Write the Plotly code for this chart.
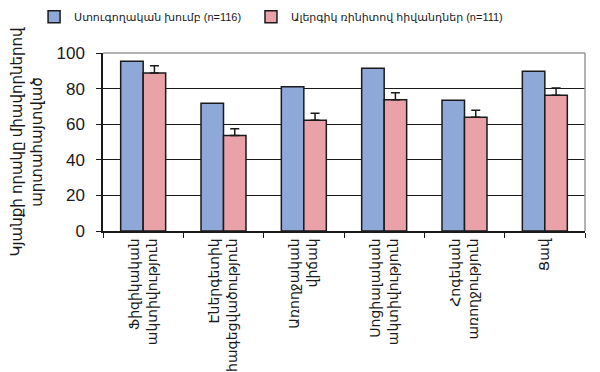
import plotly.graph_objects as go

categories = [
    "Ֆիզիկական<br>ակտիվություն",
    "Էներգետիկ<br>հագեցվածություն",
    "Առողջական<br>վիճակ",
    "Սոցիալական<br>ակտիվություն",
    "Հոգեկան<br>առողջություն",
    "Ցավ",
]
control_name = "Ստուգողական խումբ (n=116)"
patient_name = "Ալերգիկ ռինիտով հիվանդներ (n=111)"
control_values = [95.3, 71.8, 81.0, 91.4, 73.5, 89.7]
patient_values = [88.7, 53.6, 62.2, 73.7, 63.9, 76.3]
patient_errors = [4.2, 3.9, 4.0, 3.9, 4.0, 4.0]
y_ticks = [0, 20, 40, 60, 80, 100]
y_title = "Կյանքի որակը միավորներով<br>արտահայտված"

FONT = "Liberation Sans, Arial, DejaVu Sans, sans-serif"

fig = go.Figure()
fig.add_trace(go.Bar(
    x=categories, y=control_values, name=control_name, legend="legend",
    marker=dict(color="#8EA8D8", line=dict(color="#1a1a1a", width=1.5)),
))
fig.add_trace(go.Bar(
    x=categories, y=patient_values, name=patient_name, legend="legend2",
    marker=dict(color="#E8A2A8", line=dict(color="#1a1a1a", width=1.5)),
    error_y=dict(type="data", symmetric=False, array=patient_errors,
                 arrayminus=[0] * len(patient_errors),
                 color="#1a1a1a", thickness=1.5, width=4.5),
))

legend_common = dict(orientation="h", xanchor="left", y=1.204, yanchor="middle",
                     font=dict(size=11, family=FONT, color="#1a1a1a"),
                     itemwidth=30, bgcolor="rgba(0,0,0,0)")

fig.update_layout(
    width=592, height=364,
    margin=dict(l=95, r=15, t=45, b=141, autoexpand=False),
    paper_bgcolor="white", plot_bgcolor="white",
    barmode="group", bargap=0.44, bargroupgap=0.0,
    font=dict(family=FONT, color="#1a1a1a"),
    showlegend=True,
    legend=dict(x=-0.143, **legend_common),
    legend2=dict(x=0.307, **legend_common),
    xaxis=dict(
        showline=True, linecolor="#1a1a1a", linewidth=1.5,
        ticks="outside", tickson="boundaries", ticklen=5, tickcolor="#1a1a1a",
        tickangle=-90, tickfont=dict(size=14, family=FONT),
        showgrid=False,
    ),
    yaxis=dict(
        range=[0, 100], tickvals=y_ticks, ticktext=[str(v) for v in y_ticks],
        showline=True, linecolor="#1a1a1a", linewidth=1.5,
        ticks="outside", ticklen=5, tickcolor="#1a1a1a",
        ticklabelstandoff=8,
        tickfont=dict(size=17, family=FONT),
        showgrid=True, gridcolor="#1a1a1a", gridwidth=1,
        title=dict(text=y_title, font=dict(size=15, family=FONT), standoff=14),
        zeroline=False,
    ),
    shapes=[
        dict(type="line", xref="paper", yref="paper", x0=0, x1=1, y0=1, y1=1,
             line=dict(color="#9a9a9a", width=1.5), layer="above"),
        dict(type="line", xref="paper", yref="paper", x0=1, x1=1, y0=0, y1=1,
             line=dict(color="#9a9a9a", width=1.5), layer="above"),
    ],
)

fig.write_html("out.html")
